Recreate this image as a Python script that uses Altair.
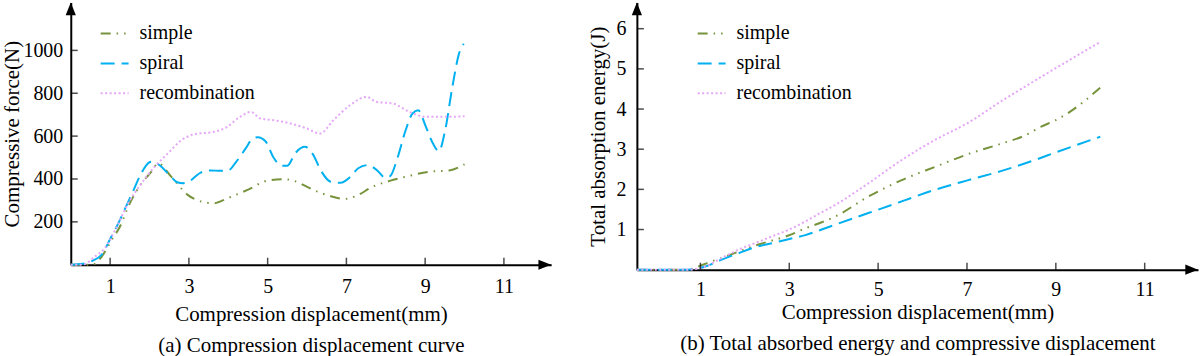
import altair as alt
import pandas as pd

FONT = "Liberation Serif"
series = ["simple", "spiral", "recombination"]
colors = ["#77933C", "#00B0F0", "#E4A6F6"]
dashes = [[10, 6, 1.5, 6, 1.5, 6], [14, 7], [2, 2.5]]

x_ticks = [1, 3, 5, 7, 9, 11]
force_ticks = [200, 400, 600, 800, 1000]
energy_ticks = [1, 2, 3, 4, 5, 6]

# (a) compressive force vs displacement
fs_x = [0, 0.54, 0.79, 1.04, 1.25, 1.46, 1.8, 2.05, 2.22, 2.55, 2.97, 3.31, 3.64, 3.98, 4.49, 4.99,
        5.41, 5.66, 5.99, 6.33, 6.58, 6.96, 7.25, 7.67, 8.1, 8.52, 9.11, 9.61, 10.0]
fs_y = [0, 0, 39, 116, 178, 271, 380, 434, 473, 411, 326, 295, 287, 310, 349, 392,
        399, 392, 364, 336, 321, 307, 321, 364, 391, 411, 434, 440, 468]
fp_x = [0, 0.3, 0.55, 0.8, 1.0, 1.2, 1.4, 1.6, 1.8, 2.0, 2.1, 2.25, 2.5, 2.7, 2.85, 3.0, 3.3, 3.55,
        3.8, 4.0, 4.2, 4.45, 4.6, 4.75, 4.95, 5.15, 5.35, 5.5, 5.7, 5.95, 6.15, 6.35, 6.6, 6.85,
        7.1, 7.3, 7.55, 7.75, 8.0, 8.12, 8.3, 8.5, 8.68, 8.82, 9.02, 9.2, 9.35, 9.5, 9.69, 9.86, 9.98]
fp_y = [0, 4, 18, 50, 120, 190, 270, 350, 430, 478, 482, 465, 420, 385, 380, 388, 430, 440,
        438, 440, 480, 545, 585, 595, 575, 500, 462, 462, 520, 550, 515, 440, 387, 382,
        410, 450, 465, 445, 405, 415, 500, 625, 706, 721, 643, 565, 530, 620, 829, 985, 1031]
fr_x = [0, 0.3, 0.62, 0.87, 1.13, 1.46, 1.8, 2.13, 2.47, 2.81, 3.14, 3.64, 3.94, 4.3, 4.57, 4.82,
        5.16, 5.58, 5.99, 6.33, 6.67, 7.09, 7.51, 7.76, 8.18, 8.6, 9.02, 9.61, 10.0]
fr_y = [0, 0, 39, 78, 163, 287, 380, 457, 520, 581, 609, 620, 640, 690, 713, 682,
        674, 659, 636, 612, 674, 744, 783, 760, 752, 713, 690, 690, 693]

# (b) total absorbed energy vs displacement
es_x = [-0.43, 0.7, 1.0, 1.26, 1.48, 1.86, 2.23, 2.53, 2.98, 3.36, 3.73, 4.03, 4.78, 5.53, 6.28,
        7.03, 7.78, 8.3, 8.67, 8.99, 9.26, 10.0]
es_y = [0, 0, 0.1, 0.21, 0.29, 0.45, 0.6, 0.7, 0.85, 1.03, 1.18, 1.32, 1.82, 2.23, 2.56,
        2.88, 3.14, 3.34, 3.56, 3.72, 3.89, 4.53]
ep_x = [-0.43, 0.7, 1.11, 1.48, 1.86, 2.23, 2.61, 2.98, 3.36, 3.73, 4.03, 4.78, 5.53, 6.28, 7.03,
        7.78, 8.5, 9.0, 10.0]
ep_y = [0, 0, 0.08, 0.25, 0.41, 0.56, 0.66, 0.76, 0.86, 1.0, 1.12, 1.41, 1.7, 1.99, 2.23,
        2.46, 2.72, 2.92, 3.31]
er_x = [-0.43, 0.7, 1.11, 1.48, 1.86, 2.23, 2.61, 2.98, 3.36, 3.73, 4.03, 4.78, 5.53, 6.28, 7.03,
        7.78, 8.67, 10.0]
er_y = [0, 0, 0.08, 0.29, 0.5, 0.66, 0.83, 0.99, 1.2, 1.43, 1.61, 2.15, 2.73, 3.23, 3.66,
        4.2, 4.8, 5.67]

a_xdom = [0, 12.2]
a_ydom = [0, 1223]
b_xdom = [-0.43, 12.2]
b_ydom = [0, 6.65]


def to_long(xs_list, ys_list):
    rows = []
    for name, xs, ys in zip(series, xs_list, ys_list):
        for x, y in zip(xs, ys):
            rows.append({"series": name, "x": x, "y": y})
    return pd.DataFrame(rows)


def panel(df, xdom, ydom, yticks, ytitle, caption, w, h, legx, lab_pad_x, title_pad_x,
          lab_pad_y, title_pad_y):
    xs = alt.Scale(domain=xdom, nice=False, zero=False)
    ys = alt.Scale(domain=ydom, nice=False, zero=False)
    leg = alt.Legend(orient="none", legendX=legx, legendY=16, title=None, symbolType="stroke",
                     symbolSize=784, symbolStrokeWidth=2, labelFont=FONT, labelFontSize=20,
                     labelColor="black", labelOffset=10, rowPadding=5, padding=0)
    xaxis = alt.Axis(values=x_ticks, ticks=False, grid=False, domainColor="black", domainWidth=2,
                     labelFont=FONT, labelFontSize=20, labelColor="black", labelPadding=lab_pad_x,
                     labelOverlap=False, labelFlush=False, format="d",
                     title=["Compression displacement(mm)", caption], titleFont=FONT,
                     titleFontSize=21, titleFontWeight="normal", titleColor="black",
                     titlePadding=title_pad_x, titleLineHeight=31)
    yaxis = alt.Axis(values=yticks, ticks=False, grid=False, domainColor="black", domainWidth=2,
                     labelFont=FONT, labelFontSize=20, labelColor="black", labelPadding=lab_pad_y,
                     labelOverlap=False, format="d", title=ytitle, titleFont=FONT, titleFontSize=21,
                     titleFontWeight="normal", titleColor="black", titlePadding=title_pad_y)
    lines = alt.Chart(df).mark_line(strokeWidth=2, interpolate="monotone", strokeCap="butt").encode(
        x=alt.X("x:Q", scale=xs, axis=xaxis),
        y=alt.Y("y:Q", scale=ys, axis=yaxis),
        color=alt.Color("series:N", scale=alt.Scale(domain=series, range=colors), legend=leg),
        strokeDash=alt.StrokeDash("series:N", scale=alt.Scale(domain=series, range=dashes), legend=leg),
    )
    xt = alt.Chart(pd.DataFrame({"t": x_ticks})).mark_tick(
        orient="vertical", size=7, thickness=1.5, color="black", yOffset=-3.5
    ).encode(x=alt.X("t:Q", scale=xs), y=alt.datum(ydom[0]))
    yt = alt.Chart(pd.DataFrame({"t": yticks})).mark_tick(
        orient="horizontal", size=7, thickness=1.5, color="black", xOffset=3.5
    ).encode(y=alt.Y("t:Q", scale=ys), x=alt.datum(xdom[0]))
    arr_r = alt.Chart(pd.DataFrame({"a": [0]})).mark_point(
        shape="M-1,-0.4L0,0L-1,0.4Z", filled=True, size=650, color="black", opacity=1
    ).encode(x=alt.datum(xdom[1]), y=alt.datum(ydom[0]))
    arr_u = alt.Chart(pd.DataFrame({"a": [0]})).mark_point(
        shape="M-0.4,1L0,0L0.4,1Z", filled=True, size=650, color="black", opacity=1
    ).encode(x=alt.datum(xdom[0]), y=alt.datum(ydom[1]))
    return alt.layer(lines, xt, yt, arr_r, arr_u).properties(width=w, height=h)


left = panel(to_long([fs_x, fp_x, fr_x], [fs_y, fp_y, fr_y]), a_xdom, a_ydom, force_ticks,
             "Compressive force(N)", "(a) Compression displacement curve", 482, 263, 29,
             12, 7, 8, 0)
right = panel(to_long([es_x, ep_x, er_x], [es_y, ep_y, er_y]), b_xdom, b_ydom, energy_ticks,
              "Total absorption energy(J)",
              "(b) Total absorbed energy and compressive displacement", 563, 268, 60,
              10, 2, 11, 7)

chart = alt.hconcat(left, right, spacing=37).resolve_scale(
    color="independent", strokeDash="independent", x="independent", y="independent"
).resolve_legend(color="independent", strokeDash="independent").properties(
    padding={"left": 2, "top": 2, "right": 2, "bottom": 0}, background="white"
).configure_view(stroke=None)

chart.save("out.html", embed_options={"renderer": "svg", "actions": False})
